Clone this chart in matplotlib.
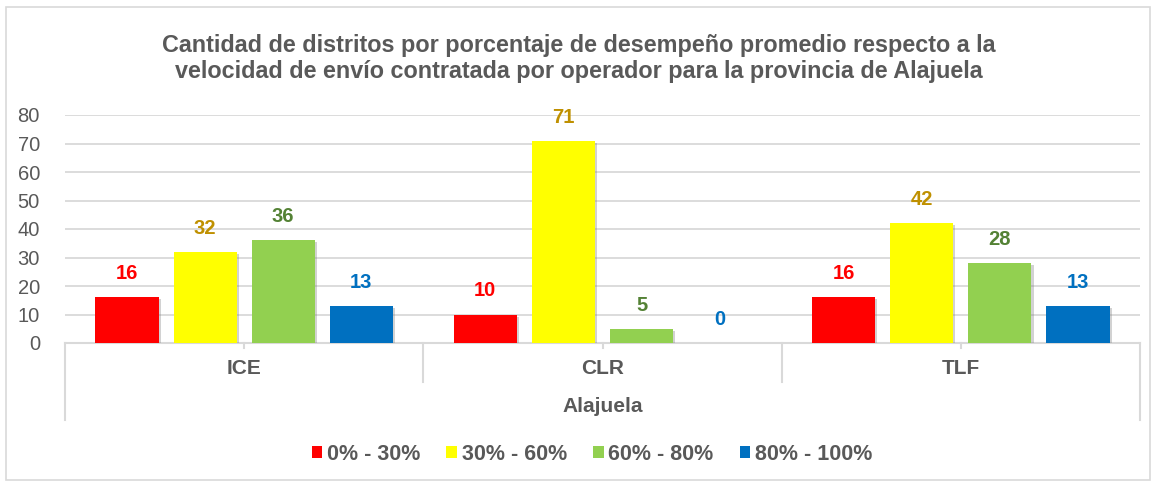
import numpy as np
import matplotlib
matplotlib.use('Agg')
import matplotlib.pyplot as plt
import matplotlib.patches as mpatches
import matplotlib.patheffects as pe

plt.rcParams['font.family'] = ['Liberation Sans', 'DejaVu Sans']

# data
operadores = ['ICE', 'CLR', 'TLF']
provincia = 'Alajuela'
rangos = ['0% - 30%', '30% - 60%', '60% - 80%', '80% - 100%']
r0_30 = [16, 10, 16]
r30_60 = [32, 71, 42]
r60_80 = [36, 5, 28]
r80_100 = [13, 0, 13]
series = [r0_30, r30_60, r60_80, r80_100]

bar_colors = ['#FF0000', '#FFFF00', '#92D050', '#0070C0']
label_colors = ['#FF0000', '#BF9000', '#548235', '#0070C0']
gray = '#595959'
light = '#D9D9D9'

fig = plt.figure(figsize=(11.58, 4.82), dpi=100)
W, H = 1158, 482
ax = fig.add_axes([65 / W, 1 - 343 / H, (1140 - 65) / W, (343 - 115) / H])

# outer chart border
fig.patches.append(mpatches.Rectangle((6 / W, 2 / H), (1150 - 6) / W, (475 - 2) / H,
                                      transform=fig.transFigure, fill=False,
                                      edgecolor=light, linewidth=1.2))

index = np.arange(len(operadores))
bar_width = 0.176
step = 0.218
offsets = (np.arange(4) - 1.5) * step

shadow = [pe.SimplePatchShadow(offset=(1.5, -1.5), shadow_rgbFace='#7F7F7F', alpha=0.35), pe.Normal()]

for i, vals in enumerate(series):
    rects = ax.bar(index + offsets[i], vals, bar_width, color=bar_colors[i],
                   label=rangos[i], zorder=3)
    for r, v in zip(rects, vals):
        r.set_path_effects(shadow)
        ax.annotate(str(v), (r.get_x() + r.get_width() / 2, v), xytext=(0, 17),
                    textcoords='offset points', ha='center', va='center',
                    fontsize=14.5, fontweight='bold', color=label_colors[i])

ax.set_ylim(0, 80)
ax.set_xlim(-0.5, 2.5)
ax.set_yticks(np.arange(0, 81, 10))
ax.tick_params(axis='y', length=0, pad=18, labelsize=14.5, labelcolor=gray)
ax.set_xticks([])
ax.grid(axis='y', color=light, linewidth=1.3, zorder=0)
for s in ['top', 'right', 'left']:
    ax.spines[s].set_visible(False)
ax.spines['bottom'].set_color(light)
ax.spines['bottom'].set_linewidth(1.5)

# multi-level category axis
tr = ax.get_xaxis_transform()
for x in [0.5, 1.5]:
    ax.plot([x, x], [0, -0.171], transform=tr, color=light, lw=1.5, clip_on=False)
for x in [-0.5, 2.5]:
    ax.plot([x, x], [0, -0.338], transform=tr, color=light, lw=1.5, clip_on=False)
for x in index:
    ax.plot([x, x], [0, -0.02], transform=tr, color=light, lw=1.5, clip_on=False)
for x, name in zip(index, operadores):
    ax.text(x, -0.11, name, transform=tr, ha='center', va='center',
            fontsize=15, fontweight='bold', color=gray)
ax.text(1, -0.28, provincia, transform=tr, ha='center', va='center',
        fontsize=15, fontweight='bold', color=gray)

fig.text(0.5, 1 - 58.5 / H,
         'Cantidad de distritos por porcentaje de desempeño promedio respecto a la\n'
         'velocidad de envío contratada por operador para la provincia de Alajuela',
         ha='center', va='center', fontsize=16.8, fontweight='bold', color=gray,
         linespacing=1.15)

handles = [mpatches.Patch(facecolor=c, label=l) for c, l in zip(bar_colors, rangos)]
leg = fig.legend(handles=handles, loc='center', bbox_to_anchor=(592 / W, 1 - 454 / H),
                 ncol=4, frameon=False, handlelength=0.5, handleheight=0.5,
                 handletextpad=0.22, columnspacing=1.2, borderpad=0,
                 prop={'size': 15.5, 'weight': 'bold'})
for t in leg.get_texts():
    t.set_color(gray)

plt.savefig('out.png', dpi=100)
